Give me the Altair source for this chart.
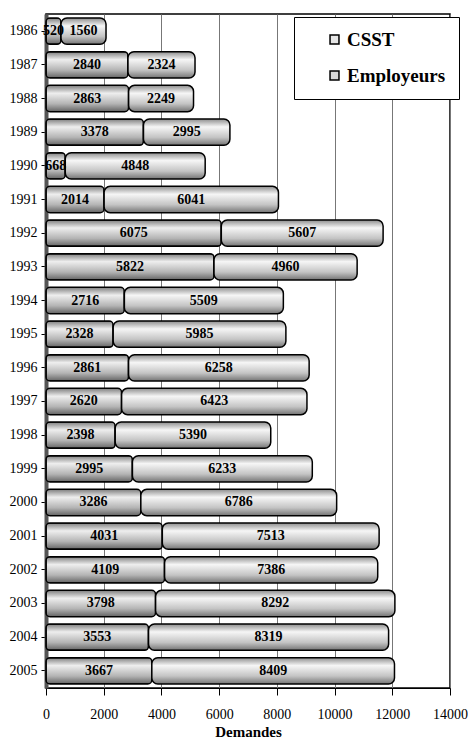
import altair as alt
import pandas as pd

years = [str(y) for y in range(1986, 2006)]
csst = [520, 2840, 2863, 3378, 668, 2014, 6075, 5822, 2716, 2328,
        2861, 2620, 2398, 2995, 3286, 4031, 4109, 3798, 3553, 3667]
employeurs = [1560, 2324, 2249, 2995, 4848, 6041, 5607, 4960, 5509, 5985,
              6258, 6423, 5390, 6233, 6786, 7513, 7386, 8292, 8319, 8409]
series = ["CSST", "Employeurs"]
x_ticks = list(range(0, 14001, 2000))

df = pd.DataFrame({"year": years, "csst": csst, "emp": employeurs})
df["total"] = df["csst"] + df["emp"]
df["csst_mid"] = df["csst"] / 2
df["emp_mid"] = df["csst"] + df["emp"] / 2

FONT = "Liberation Serif"

grad_csst = alt.Gradient(
    gradient="linear", x1=0, y1=0, x2=0, y2=1,
    stops=[alt.GradientStop(color="#7e7e7e", offset=0),
           alt.GradientStop(color="#eeeeee", offset=0.3),
           alt.GradientStop(color="#b4b4b4", offset=0.7),
           alt.GradientStop(color="#646464", offset=1)])
grad_emp = alt.Gradient(
    gradient="linear", x1=0, y1=0, x2=0, y2=1,
    stops=[alt.GradientStop(color="#8e8e8e", offset=0),
           alt.GradientStop(color="#f6f6f6", offset=0.3),
           alt.GradientStop(color="#c4c4c4", offset=0.7),
           alt.GradientStop(color="#747474", offset=1)])

y_enc = alt.Y("year:O", sort=years, title=None,
              scale=alt.Scale(paddingInner=0.22, paddingOuter=0.12),
              axis=alt.Axis(labelFont=FONT, labelFontSize=14, labelColor="black",
                            labelPadding=4, tickColor="black", tickSize=5,
                            domainColor="#555555", domainWidth=4))
x_scale = alt.Scale(domain=[0, 14000], nice=False)
x_axis = alt.Axis(values=x_ticks, format="d", labelFont=FONT, labelFontSize=14,
                  labelColor="black", tickColor="black", tickSize=7,
                  labelOverlap=False, labelBound=False, labelFlush=False,
                  domainColor="black", gridColor="#777777", gridWidth=1,
                  titleFont=FONT, titleFontSize=15, titleFontWeight="bold",
                  titleColor="black", titlePadding=3, labelPadding=12)

base = alt.Chart(df)

bar_csst = base.mark_bar(fill=grad_csst, stroke="black", strokeWidth=1.5,
                         cornerRadius=4).encode(
    x=alt.X("csst:Q", scale=x_scale, axis=x_axis, title="Demandes"),
    y=y_enc,
)
bar_emp = base.mark_bar(fill=grad_emp, stroke="black", strokeWidth=1.5,
                        cornerRadius=6).encode(
    x=alt.X("csst:Q", scale=x_scale),
    x2="total:Q",
    y=y_enc,
)
txt_csst = base.mark_text(font=FONT, fontSize=14, fontWeight="bold",
                          color="black").encode(
    x=alt.X("csst_mid:Q", scale=x_scale), y=y_enc, text="csst:Q")
txt_emp = base.mark_text(font=FONT, fontSize=14, fontWeight="bold",
                         color="black").encode(
    x=alt.X("emp_mid:Q", scale=x_scale), y=y_enc, text="emp:Q")

leg_df = pd.DataFrame({"series": series, "v": [0, 0], "year": [years[0], years[0]]})
legend_layer = alt.Chart(leg_df).mark_square(size=0, opacity=0).encode(
    x=alt.X("v:Q", scale=x_scale),
    y=y_enc,
    color=alt.Color("series:N", scale=alt.Scale(domain=series,
                                                range=["#e6e6e6", "#d8d8d8"]),
                    legend=alt.Legend(title=None, orient="none", legendX=248,
                                      legendY=3, labelFont=FONT, labelFontSize=19,
                                      labelFontWeight="bold", labelColor="black",
                                      symbolType="square", symbolSize=80,
                                      symbolOpacity=1, symbolStrokeColor="black",
                                      symbolStrokeWidth=1.5, strokeColor="black",
                                      fillColor="white", padding=13,
                                      rowPadding=16, labelOffset=3,
                                      offset=0, symbolOffset=18)),
)

chart = alt.layer(bar_csst, bar_emp, txt_csst, txt_emp, legend_layer).properties(
    width=404, height=674,
    autosize=alt.AutoSizeParams(type="none"),
    padding={"left": 38, "top": 6, "right": 18, "bottom": 53},
).configure_view(stroke="black", strokeWidth=1.5).configure_axisX(grid=True).configure_axisY(grid=False)

chart.save("out.html", embed_options={"renderer": "svg", "actions": False})
